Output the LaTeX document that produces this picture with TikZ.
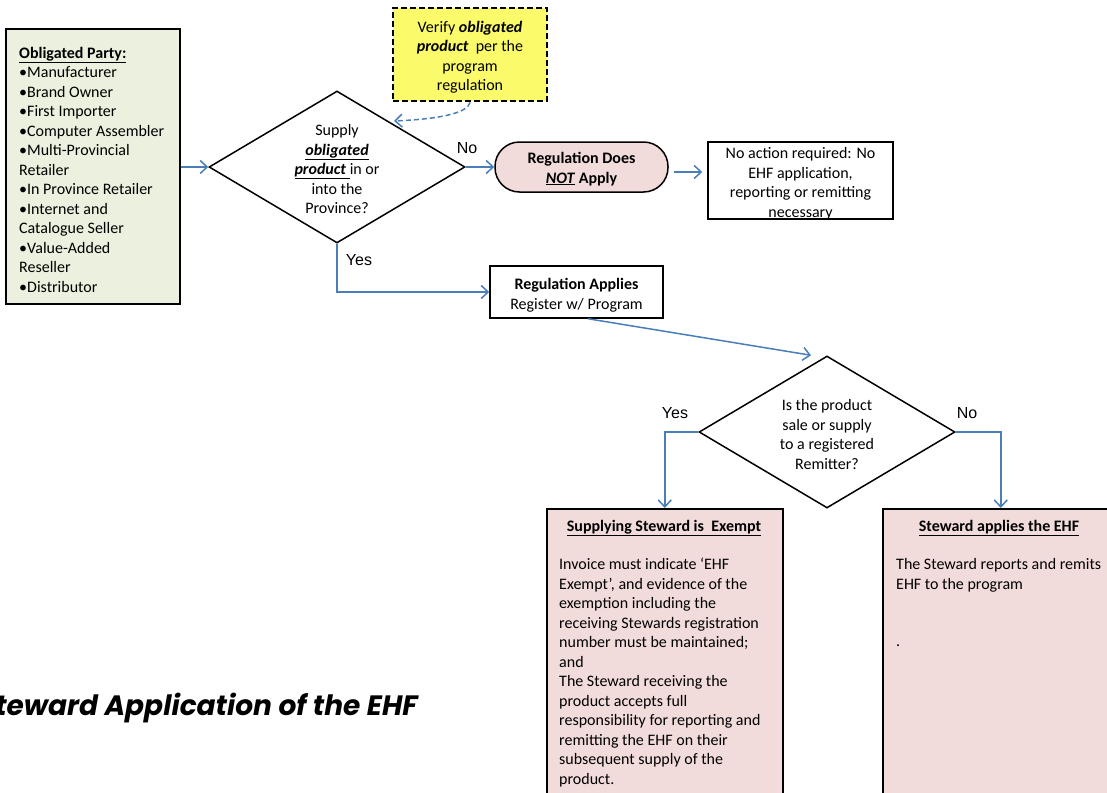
\documentclass[tikz,border=0pt]{standalone}
\usepackage{fontspec}
\setmainfont{Carlito}
\newfontfamily\arialf{Liberation Sans}
\newfontfamily\titlefont{Poppins}
\usetikzlibrary{shapes.geometric,arrows.meta,calc}
\definecolor{arrblue}{HTML}{4A7EBB}
\definecolor{boxgreen}{HTML}{EBF1DE}
\definecolor{boxpink}{HTML}{F2DCDB}
\definecolor{boxyellow}{HTML}{FAFA6A}
\begin{document}
\begin{tikzpicture}[x=1pt,y=-1pt,
  every node/.style={font=\fontsize{16}{19.5}\selectfont, inner sep=0pt},
  blk/.style={draw=black, line width=1.5pt},
  arr/.style={draw=arrblue, line width=1.5pt, -{Straight Barb[length=7pt,width=13pt]}},
  lbl/.style={font=\arialf\fontsize{16}{19}\selectfont},
  dia/.style={diamond, draw=black, line width=1.5pt, minimum width=256pt, minimum height=152pt, inner sep=0pt},
  txt/.style={align=center},
  ltxt/.style={align=left, anchor=west},
]
\useasboundingbox (0,0) rectangle (1107,792);
\clip (0,0) rectangle (1107,792);

% Obligated party
\node[blk, fill=boxgreen, minimum width=174pt, minimum height=275pt] (op) at (93,166.5) {};
\node[ltxt] (opt) at (19,169.5) {\underline{\textbf{Obligated Party:}}\\
\textbullet Manufacturer\\
\textbullet Brand Owner\\
\textbullet First Importer\\
\textbullet Computer Assembler\\
\textbullet Multi-Provincial\\
Retailer\\
\textbullet In Province Retailer\\
\textbullet Internet and\\
Catalogue Seller\\
\textbullet Value-Added\\
Reseller\\
\textbullet Distributor};

% Decision 1
\node[dia] (d1) at (337,167) {};
\node[txt] (d1t) at (337,169) {Supply\\
\underline{\textbf{\textit{obligated}}}\\
\underline{\textbf{\textit{product}} }in or\\
into the\\
Province?};

% Verify box
\node[draw=black, line width=2.5pt, dash pattern=on 6pt off 3pt, fill=boxyellow, minimum width=154pt, minimum height=93pt] (vfy) at (470,54.5) {};
\node[txt] (vfyt) at (470,57.5) {Verify \textbf{\textit{obligated}}\\
\textbf{\textit{product}}\ \ per the\\
program\\
regulation};

% Regulation does not apply
\node[blk, fill=boxpink, rounded corners=24.5pt, minimum width=173pt, minimum height=50pt] (rdna) at (581.5,167) {};
\node[txt, font=\fontsize{16}{19.5}\selectfont\bfseries] (rdnat) at (581.5,169) {Regulation Does\\
\underline{\textit{NOT}} Apply};

% No action
\node[blk, minimum width=185pt, minimum height=77pt] (noact) at (800.5,180.5) {};
\node[txt] (noactt) at (800.5,183.5) {No action required: No\\
EHF application,\\
reporting or remitting\\
necessary};

% Regulation applies
\node[blk, minimum width=173pt, minimum height=52pt] (rap) at (576.5,292) {};
\node[txt] (rapt) at (576.5,295) {\textbf{Regulation Applies}\\
Register w/ Program};

% Decision 2
\node[dia] (d2) at (827,432) {};
\node[txt] (d2t) at (827,434.5) {Is the product\\
sale or supply\\
to a registered\\
Remitter?};

% Exempt box
\node[blk, fill=boxpink, anchor=north west, minimum width=236pt, minimum height=300pt] (ex) at (546,508) {};
\node[anchor=base] (ext) at (664,531.5) {\underline{\textbf{Supplying Steward is\ \ Exempt}}};
\node[ltxt] (exb) at (559,672.75) {Invoice must indicate ‘EHF\\
Exempt’, and evidence of the\\
exemption including the\\
receiving Stewards registration\\
number must be maintained;\\
and\\
The Steward receiving the\\
product accepts full\\
responsibility for reporting and\\
remitting the EHF on their\\
subsequent supply of the\\
product.};

% Steward applies box
\node[blk, fill=boxpink, anchor=north west, minimum width=236pt, minimum height=300pt] (sa) at (882,508) {};
\node[anchor=base] (sat) at (999,531.5) {\underline{\textbf{Steward applies the EHF}}};
\node[ltxt] (sab) at (896,575.25) {The Steward reports and remits\\
EHF to the program};
\node[anchor=base west] (sadot) at (896,646.5) {.};

% Labels
\node[lbl] (no1) at (467,148) {No};
\node[lbl] (yes1) at (359,260) {Yes};
\node[lbl] (yes2) at (675,413) {Yes};
\node[lbl] (no2) at (967,413) {No};

% Title
\node[anchor=base east] (ttl) at (418,715) {\titlefont\bfseries\itshape\fontsize{28}{30}\selectfont Steward Application of the EHF};

% Connectors
\draw[arr] (op.east |- d1.west) -- (d1.west);
\coordinate (vt) at (394,121);
\draw[arr, dash pattern=on 5pt off 3pt] (vfy.south) .. controls (468,113) and (440,119) .. (vt);
\draw[arr] (d1.east) -- (rdna.west);
\coordinate (a4) at ([xshift=5pt,yshift=-5pt]rdna.east);
\draw[arr, shorten >=5pt] (a4) -- (a4 -| noact.west);
\draw[arr] (d1.south) -- (d1.south |- rap.west) -- (rap.west);
\draw[arr] ([xshift=11.5pt]rap.south) -- ([xshift=-16pt]d2.north);
\draw[arr] (d2.west) -| (ex.north);
\draw[arr] (d2.east) -| (sa.north);
\end{tikzpicture}
\end{document}
